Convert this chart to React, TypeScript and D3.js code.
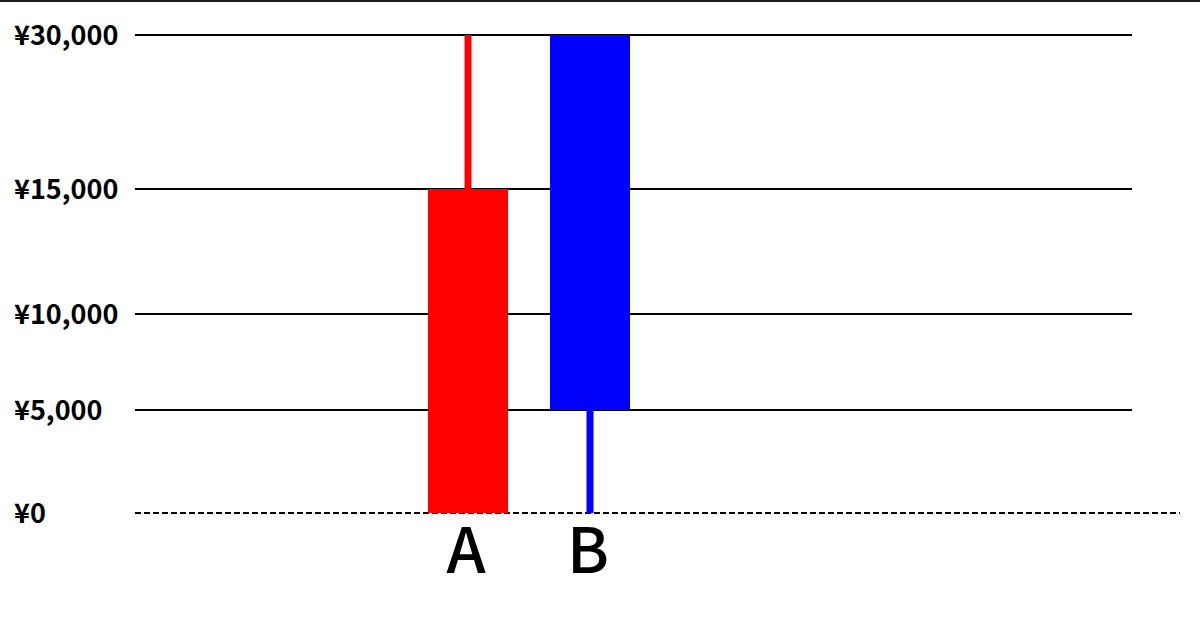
import React from "react";
import * as d3 from "d3";

const categories = ["A", "B"];
const openVals = [0, 30000];
const closeVals = [15000, 5000];
const highVals = [30000, 30000];
const lowVals = [0, 0];
const colors = ["#ff0000", "#0000ff"];
const tickValues = [0, 5000, 10000, 15000, 30000];
const tickLabels = ["¥0", "¥5,000", "¥10,000", "¥15,000", "¥30,000"];

const W = 1200;
const H = 628;

export default function App() {
  // piecewise (non-uniform) value axis as in the reference
  const y = d3.scaleLinear().domain(tickValues).range([513, 410, 314, 189, 35]);
  const x = d3.scaleBand<string>().domain(categories).range([428, 630]).paddingInner(0.344).paddingOuter(0);
  const bw = x.bandwidth();
  const wick = 7;
  const font = "'Noto Sans CJK JP', 'Noto Sans', sans-serif";

  return (
    <svg width={W} height={H} style={{ position: "absolute", left: 0, top: 0, background: "#fff" }}>
      <rect x={0} y={0} width={W} height={H} fill="#fff" />
      <line x1={0} x2={W} y1={1} y2={1} stroke="#1a1a1a" strokeWidth={2} />
      {tickValues.map((v) =>
        v === 0 ? (
          <line key={v} x1={135} x2={1180} y1={y(v)} y2={y(v)} stroke="#000" strokeWidth={2} strokeDasharray="6,3" />
        ) : (
          <line key={v} x1={135} x2={1132} y1={y(v)} y2={y(v)} stroke="#000" strokeWidth={2.2} />
        )
      )}
      {tickValues.map((v, i) => (
        <text
          key={"t" + v}
          x={14}
          y={y(v) - 2}
          dominantBaseline="central"
          fontFamily={font}
          fontSize={27}
          fontWeight={600}
          fill="#000"
        >
          {tickLabels[i]}
        </text>
      ))}
      {categories.map((c, i) => {
        const cx = (x(c) as number) + bw / 2;
        const top = Math.max(openVals[i], closeVals[i]);
        const bot = Math.min(openVals[i], closeVals[i]);
        return (
          <g key={c}>
            <rect x={cx - wick / 2} y={y(highVals[i])} width={wick} height={y(top) - y(highVals[i])} fill={colors[i]} />
            <rect x={cx - wick / 2} y={y(bot)} width={wick} height={y(lowVals[i]) - y(bot)} fill={colors[i]} />
            <rect x={x(c)} y={y(top)} width={bw} height={y(bot) - y(top)} fill={colors[i]} />
            <text
              x={cx - 2}
              y={573}
              textAnchor="middle"
              fontFamily={font}
              fontSize={63}
              fontWeight={500}
              fill="#000"
            >
              {c}
            </text>
          </g>
        );
      })}
    </svg>
  );
}
